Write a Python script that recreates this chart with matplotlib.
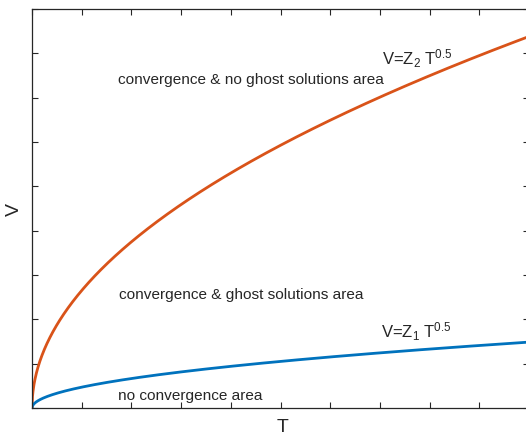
import numpy as np
import matplotlib
matplotlib.use("Agg")
import matplotlib.pyplot as plt

plt.rcParams['font.family'] = ['Liberation Sans', 'DejaVu Sans']
plt.rcParams['mathtext.fontset'] = 'custom'
plt.rcParams['mathtext.rm'] = 'Liberation Sans'
plt.rcParams['mathtext.it'] = 'Liberation Sans'

# data: curves V = Z * T^0.5
T_max = 10.0
Z1 = 0.47
Z2 = 2.65
x_ticks = list(range(0, 11))
y_ticks = list(range(0, 10))
labels = {
    'upper': 'convergence & no ghost solutions area',
    'middle': 'convergence & ghost solutions area',
    'lower': 'no convergence area',
}

T = np.linspace(0, T_max, 1000)

fig = plt.figure(figsize=(5.26, 4.37), dpi=100)
ax = fig.add_axes([32/526, 29/437, 497/526, 399/437])

ax.plot(T, Z2 * np.sqrt(T), color='#D95319', lw=2)
ax.plot(T, Z1 * np.sqrt(T), color='#0072BD', lw=2)

ax.set_xlim(0, 10)
ax.set_ylim(0, 9)
ax.set_xticks(x_ticks)
ax.set_yticks(y_ticks)
ax.set_xticklabels([])
ax.set_yticklabels([])
ax.tick_params(direction='in', top=True, right=True, length=4, width=0.8, color='#262626')
for s in ax.spines.values():
    s.set_color('#262626')
    s.set_linewidth(0.9)

fig.text(283/526, 1 - 427/437, 'T', fontsize=14, color='#262626', ha='center', va='center')
fig.text(14.5/526, 1 - 209/437, 'V', fontsize=14, color='#262626', ha='center', va='center', rotation=90)

fs = 11.1
tc = '#262626'
ax.text(1.73, 7.40, labels['upper'], fontsize=fs, color=tc, ha='left', va='center')
ax.text(1.75, 2.55, labels['middle'], fontsize=fs, color=tc, ha='left', va='center')
ax.text(1.73, 0.27, labels['lower'], fontsize=fs, color=tc, ha='left', va='center')
ax.text(7.04, 7.74, r'V=Z$_2$ T$^{0.5}$', fontsize=12, color=tc, ha='left', va='baseline')
ax.text(7.02, 1.58, r'V=Z$_1$ T$^{0.5}$', fontsize=12, color=tc, ha='left', va='baseline')

fig.savefig('out.png', dpi=100)
